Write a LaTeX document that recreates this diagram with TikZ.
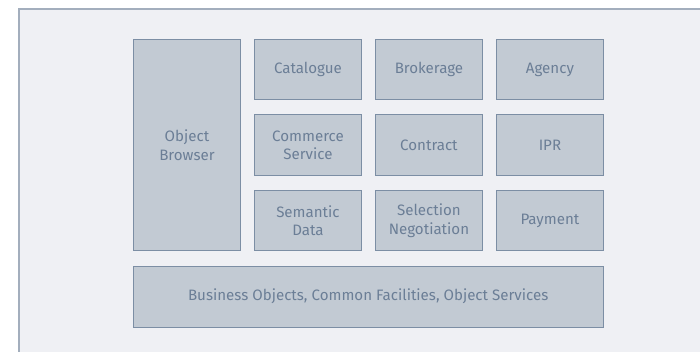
\documentclass[tikz,border=0pt]{standalone}
\usepackage{fontspec}
\setmainfont{Fira Sans}
\definecolor{panelfill}{HTML}{EFF0F4}
\definecolor{panelline}{HTML}{A3AEBD}
\definecolor{boxfill}{HTML}{C2CAD3}
\definecolor{boxline}{HTML}{7C8EA4}
\definecolor{boxtext}{HTML}{6B7E96}
\tikzset{
  module/.style={draw=boxline,fill=boxfill,text=boxtext,line width=0.9pt,
    anchor=north west,minimum width=107pt,minimum height=60.5pt,
    align=center,inner sep=0pt,font=\fontsize{15.1}{18.4}\selectfont}
}
\begin{document}
\begin{tikzpicture}[x=1pt,y=-1pt]
  \useasboundingbox (0,0) rectangle (700,352);
  \begin{scope}
    \clip (0,0) rectangle (700,352);
    \draw[panelline,fill=panelfill,line width=1.4pt] (19,9) rectangle (720,370);
  \end{scope}
  \node[module,minimum height=211.5pt] (browser) at (133,39) {Object\\Browser};
  \node[module] (catalogue) at (254,39) {Catalogue};
  \node[module] (brokerage) at (375,39) {Brokerage};
  \node[module] (agency) at (496,39) {Agency};
  \node[module] (commerce) at (254,114.5) {Commerce\\Service};
  \node[module] (contract) at (375,114.5) {Contract};
  \node[module] (ipr) at (496,114.5) {IPR};
  \node[module] (semantic) at (254,190) {Semantic\\Data};
  \node[module] (selection) at (375,190) {Selection\\Negotiation};
  \node[module] (payment) at (496,190) {Payment};
  \node[module,minimum width=469.5pt,minimum height=61pt] (business) at (133,265.5)
    {Business Objects, Common Facilities, Object Services};
\end{tikzpicture}
\end{document}
